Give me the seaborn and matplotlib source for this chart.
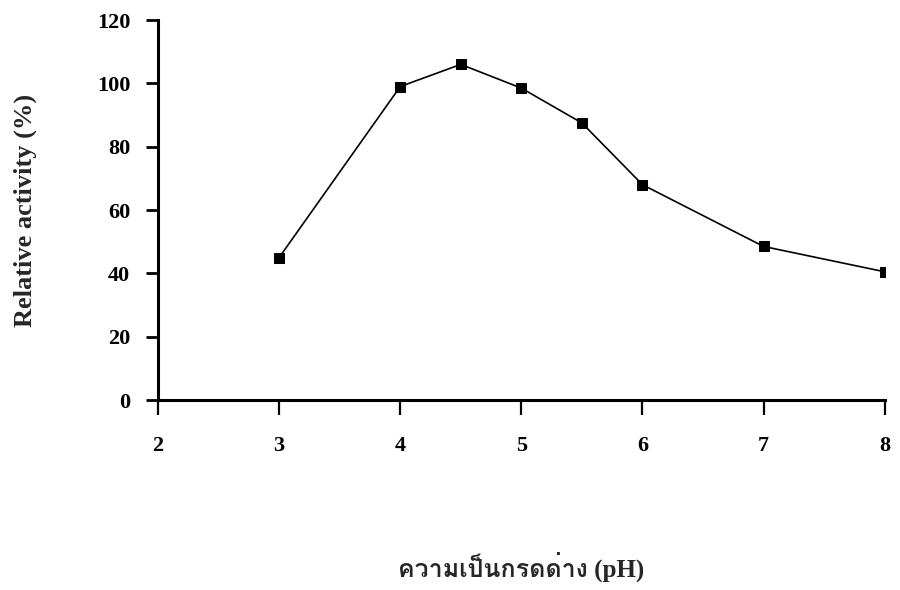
import matplotlib
matplotlib.use("Agg")
import matplotlib.pyplot as plt
from matplotlib import font_manager as fm
from matplotlib.ft2font import FT2Font
import seaborn as sns
import pandas as pd

# values
ph = [3, 4, 4.5, 5, 5.5, 6, 7, 8]
activity = [45, 99, 106, 98.5, 87.5, 68, 48.5, 40.5]
xticks = [2, 3, 4, 5, 6, 7, 8]
yticks = [0, 20, 40, 60, 80, 100, 120]

df = pd.DataFrame({"pH": ph, "activity": activity})


def find_thai_family():
    for f in fm.fontManager.ttflist:
        try:
            if 0x0E01 in FT2Font(f.fname).get_charmap():
                return f.name
        except Exception:
            pass
    return "DejaVu Sans"


thai = find_thai_family()

sns.set_theme(style="ticks")
plt.rcParams["font.family"] = ["Liberation Serif", "DejaVu Serif"]

fig = plt.figure(figsize=(9, 5.9), dpi=100)
ax = fig.add_axes([0.1756, 0.322, 0.8074, 0.644])

sns.lineplot(data=df, x="pH", y="activity", ax=ax, color="black", linewidth=1.2,
             marker="s", markersize=7, markeredgecolor="black", markerfacecolor="black")

ax.set_xlim(2, 8)
ax.set_ylim(0, 120)
ax.set_xticks(xticks)
ax.set_yticks(yticks)
ax.set_xticklabels([str(t) for t in xticks], fontweight="bold", fontsize=16)
ax.set_yticklabels([str(t) for t in yticks], fontweight="bold", fontsize=16)
ax.tick_params(axis="x", direction="out", length=11, width=1.6, pad=15, colors="black")
ax.tick_params(axis="y", direction="out", length=9, width=2, pad=11, colors="black")

sns.despine(ax=ax)
for s in ("left", "bottom"):
    ax.spines[s].set_linewidth(2.2)
    ax.spines[s].set_color("black")

ax.set_ylabel("Relative activity (%)", fontweight="bold", fontsize=19,
              family=["Liberation Serif"])
ax.yaxis.set_label_coords(-0.166, 0.5)
ax.set_xlabel("ความเป็นกรดด่าง (pH)", fontweight="bold", fontsize=18,
              family=["Liberation Serif", thai, "DejaVu Sans"])
ax.xaxis.set_label_coords(0.5, -0.40)

fig.savefig("out.png", dpi=100)
